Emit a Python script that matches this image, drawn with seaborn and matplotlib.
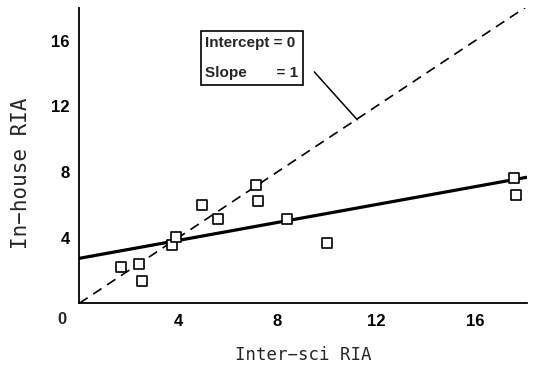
import matplotlib
matplotlib.use("Agg")
import matplotlib.pyplot as plt
import seaborn as sns
import pandas as pd

# Data
inter_sci = [1.69, 2.43, 2.55, 3.74, 3.90, 4.96, 5.62, 7.14, 7.22, 8.41, 10.0, 17.57, 17.64]
in_house = [2.2, 2.42, 1.36, 3.57, 4.02, 5.98, 5.14, 7.23, 6.26, 5.12, 3.68, 7.62, 6.6]
fit_intercept = 2.74
fit_slope = 0.273
fit_x = [0.0, 18.1]
identity_x = [0.0, 18.1]
x_ticks = [4, 8, 12, 16]
y_ticks = [4, 8, 12, 16]

sns.set_style("white")
plt.rcParams["font.family"] = ["Liberation Sans", "DejaVu Sans"]

fig = plt.figure(figsize=(5.33, 3.72), dpi=100)
ax = fig.add_axes([0.1488, 0.1847, 0.840, 0.794])

df = pd.DataFrame({"x": inter_sci, "y": in_house})
fit_df = pd.DataFrame({"x": fit_x, "y": [fit_intercept + fit_slope * v for v in fit_x]})
id_df = pd.DataFrame({"x": identity_x, "y": identity_x})

sns.lineplot(data=id_df, x="x", y="y", ax=ax, color="black", lw=1.2,
             linestyle=(0, (6, 4)))
sns.lineplot(data=fit_df, x="x", y="y", ax=ax, color="black", lw=2.3)
sns.scatterplot(data=df, x="x", y="y", ax=ax, marker="s", s=60,
                facecolor="white", edgecolor="black", linewidth=1.2, zorder=5)

ax.set_xlim(0, 18.1)
ax.set_ylim(0, 18.0)
ax.set_xticks(x_ticks)
ax.set_yticks(y_ticks)
ax.set_xticklabels([str(t) for t in x_ticks], fontsize=12, fontweight="bold")
ax.set_yticklabels([str(t) for t in y_ticks], fontsize=12, fontweight="bold")
ax.tick_params(direction="in", length=8, width=1.1, colors="black")
ax.tick_params(axis="x", pad=8)
ax.tick_params(axis="y", pad=7)
for s in ["top", "right"]:
    ax.spines[s].set_visible(False)
for s in ["left", "bottom"]:
    ax.spines[s].set_color("black")
    ax.spines[s].set_linewidth(1.3)

ax.text(-0.7, -1.0, "0", fontsize=12, fontweight="bold", ha="center",
        va="center", clip_on=False)
ax.set_xlabel("Inter\u2212sci RIA", fontsize=12.5, labelpad=12,
              family="DejaVu Sans Mono")
ax.set_ylabel("In\u2212house RIA", fontsize=15, family="DejaVu Sans Mono")
ax.yaxis.set_label_coords(-0.108, 0.441)

# annotation box
ax.text(5.1, 14.95, "Intercept = 0\nSlope       = 1", fontsize=11,
        fontweight="bold", ha="left", va="center", linespacing=2.45,
        bbox=dict(boxstyle="square,pad=0.3", fc="white", ec="black", lw=1.2))
ax.plot([9.5, 11.24], [14.1, 11.18], color="black", lw=1.1)

fig.savefig("out.png", dpi=100)
